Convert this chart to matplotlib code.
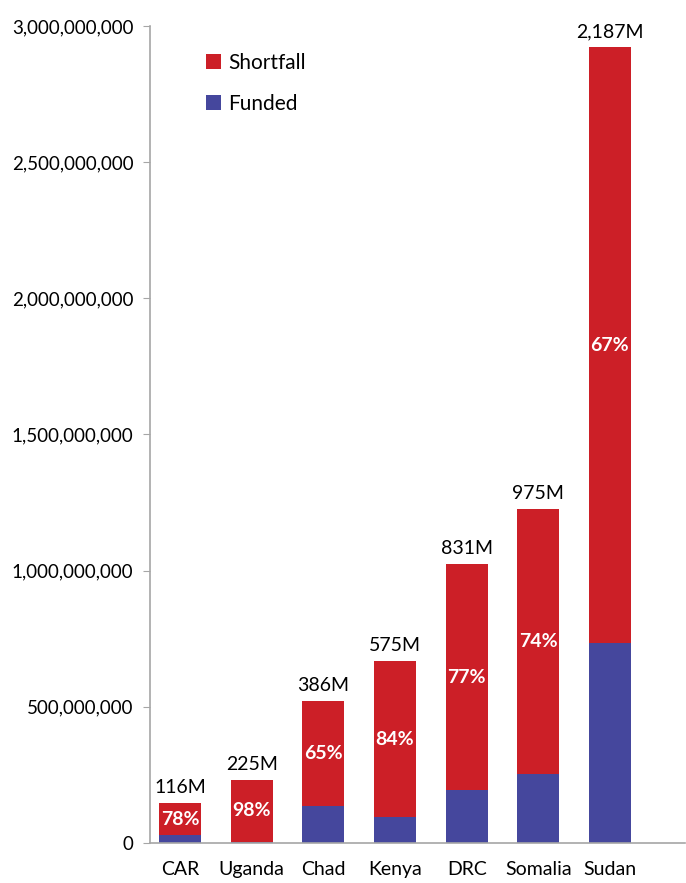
import matplotlib.pyplot as plt
from matplotlib.ticker import FuncFormatter, MultipleLocator
import numpy as np

plt.rcParams['font.family'] = ['Lato', 'DejaVu Sans']

# Appeal amounts in US$ millions
countries = ["CAR", "Uganda", "Chad", "Kenya", "DRC", "Somalia", "Sudan"]
funded_m = [30, 5, 137, 94, 194, 252, 734]
shortfall_m = [116, 225, 386, 575, 831, 975, 2187]
shortfall_pct = [78, 98, 65, 84, 77, 74, 67]

RED = "#cc1f27"
BLUE = "#45479d"
GRID = "#a6a6a6"

funded = np.array(funded_m) * 1e6
shortfall = np.array(shortfall_m) * 1e6
x = np.arange(len(countries))

fig = plt.figure(figsize=(6.86, 8.83), dpi=100)
ax = fig.add_axes([0.2187, 0.0453, 0.78, 0.9253])

width = 0.586
ax.bar(x, funded, width, color=BLUE, label="Funded", zorder=2)
ax.bar(x, shortfall, width, bottom=funded, color=RED, label="Shortfall", zorder=2)

for i in range(len(countries)):
    top = funded[i] + shortfall[i]
    ax.annotate(f"{shortfall_m[i]:,}M", (x[i], top), xytext=(0, 5),
                textcoords="offset points", ha="center", va="bottom", fontsize=14)
    ax.text(x[i], funded[i] + shortfall[i] / 2, f"{shortfall_pct[i]}%",
            ha="center", va="center", color="white", fontsize=14, fontweight="bold")

ax.set_ylim(0, 3e9)
ax.set_xlim(-0.42, 7.05)
ax.yaxis.set_major_locator(MultipleLocator(5e8))
ax.yaxis.set_major_formatter(FuncFormatter(lambda v, p: f"{int(v):,}"))
ax.set_xticks(x)
ax.set_xticklabels(countries)

for side in ("top", "right"):
    ax.spines[side].set_visible(False)
for side in ("left", "bottom"):
    ax.spines[side].set_color(GRID)
    ax.spines[side].set_linewidth(1.2)
ax.tick_params(axis="y", length=5, color=GRID, labelsize=13.5, pad=7)
ax.tick_params(axis="x", length=0, labelsize=14, pad=13)

handles, labels = ax.get_legend_handles_labels()
ax.legend(handles[::-1], labels[::-1], loc="upper left", bbox_to_anchor=(0.07, 0.99),
          frameon=False, fontsize=15, handlelength=0.7, handleheight=0.7,
          handletextpad=0.35, labelspacing=1.0)

fig.savefig("out.png", dpi=100)
